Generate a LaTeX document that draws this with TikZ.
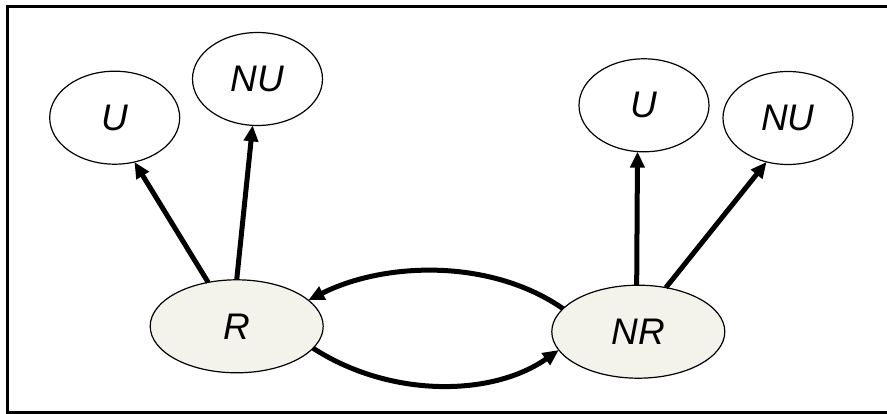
\documentclass[tikz,border=0pt]{standalone}
\usepackage{fontspec}
\setmainfont{Liberation Sans}
\usetikzlibrary{shapes.geometric,arrows.meta}
\definecolor{nodefill}{RGB}{243,243,236}
\tikzset{
  state/.style={ellipse, draw=black, line width=1.2pt, inner sep=0pt, outer sep=0pt,
    minimum width=130pt, minimum height=93pt,
    font=\fontsize{37}{40}\selectfont\itshape},
  bigstate/.style={state, fill=nodefill, minimum width=173pt},
  conn/.style={line width=5pt, -{Triangle[length=16pt,width=14pt]}},
}
\begin{document}
\begin{tikzpicture}[x=1pt,y=-1pt]
\useasboundingbox (0,0) rectangle (887,414);
\draw[line width=3pt] (900,7) -- (7.5,7) -- (7.5,412.5) -- (900,412.5);
\node[state] (uL) at (114.7,117.7) {U};
\node[state] (nuL) at (257.5,79) {NU};
\node[state] (uR) at (644,105.3) {U};
\node[state] (nuR) at (788,118) {NU};
\node[bigstate] (r) at (236.7,326.3) {R};
\node[bigstate] (nr) at (638.3,331.7) {NR};
\draw[conn] (r.123) -- (uL.-66);
\draw[conn] (r.90) -- (nuL.-96);
\draw[conn] (nr.92) -- (uR.-98);
\draw[conn] (nr.58) -- (nuR.-116);
\draw[conn] (nr.163) .. controls (490,258) and (384,262) .. (r.20);
\draw[conn] (r.-16) .. controls (390,398) and (492,397) .. (nr.-167);
\end{tikzpicture}
\end{document}
